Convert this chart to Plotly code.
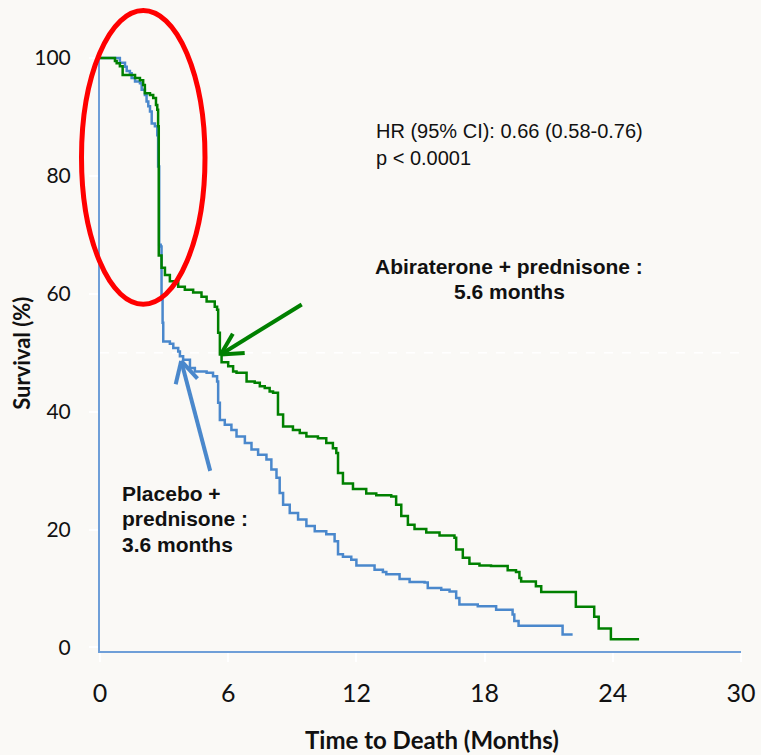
import math
import plotly.graph_objects as go

# Kaplan-Meier step data: time of each event (months) and survival (%) after it
abi_time = [0, 0.70, 0.78, 0.93, 1.06, 1.64, 1.87, 2.02, 2.10, 2.34, 2.49, 2.62, 2.68, 2.72, 2.75,
            2.88, 3.04, 3.27, 3.66, 3.97, 4.36, 4.75, 4.99, 5.37, 5.48, 5.53, 5.61, 5.69, 6.00, 6.23,
            6.39, 6.86, 7.24, 7.48, 7.71, 7.94, 8.10, 8.33, 8.57, 9.03, 9.35, 9.66, 10.20, 10.59, 10.90,
            11.06, 11.14, 11.37, 11.84, 12.46, 12.93, 13.63, 13.86, 14.10, 14.41, 14.72, 15.27, 15.89,
            16.59, 16.67, 16.98, 17.29, 17.76, 18.30, 19.08, 19.47, 19.63, 19.71, 20.40, 20.65, 22.27,
            23.13, 23.34, 23.91, 25.23]
abi_surv = [100, 99.5, 99.1, 98.6, 97.1, 96.6, 96.2, 95.4, 94.0, 93.7, 93.2, 92.0, 91.2, 88.4, 66.5,
            64.4, 63.2, 62.1, 61.2, 60.7, 60.2, 59.5, 58.7, 57.8, 57.3, 53.4, 49.7, 48.4, 47.7, 46.8,
            46.6, 45.1, 44.9, 44.3, 44.0, 43.4, 43.2, 39.5, 37.5, 36.9, 36.4, 35.8, 35.5, 34.7, 33.8,
            33.0, 29.6, 27.8, 26.9, 26.1, 25.8, 25.6, 24.2, 22.3, 20.8, 20.1, 19.5, 19.0,
            18.6, 16.6, 15.2, 14.2, 13.9, 13.8, 13.1, 12.8, 11.8, 11.2, 10.4, 9.4, 6.9,
            5.2, 3.2, 1.4, 1.4]

pla_time = [0, 0.93, 1.17, 1.25, 1.40, 1.48, 1.64, 1.87, 1.95, 2.10, 2.18, 2.26, 2.34, 2.42, 2.57,
            2.68, 2.72, 2.77, 2.84, 2.88, 2.93, 2.96, 3.27, 3.43, 3.66, 3.74, 3.89, 4.21, 4.44, 4.99,
            5.29, 5.48, 5.53, 5.61, 5.84, 6.15, 6.39, 6.78, 7.09, 7.40, 7.79, 8.02, 8.26, 8.41, 8.57,
            8.88, 9.27, 9.66, 10.05, 10.59, 10.98, 11.14, 11.37, 11.76, 12.00, 12.85, 13.24, 13.40,
            14.02, 14.49, 15.19, 15.34, 15.97, 16.36, 16.67, 16.82, 17.68, 18.54, 19.31, 19.39, 19.59,
            21.65, 22.12]
pla_surv = [100, 99.2, 98.5, 97.8, 97.4, 96.6, 96.0, 95.7, 94.6, 93.7, 92.6, 91.8, 90.9, 88.9, 88.4,
            86.9, 81.6, 68.3, 68.0, 59.0, 55.1, 51.9, 51.5, 50.8, 50.2, 49.4, 48.8, 47.4, 46.8, 46.6,
            46.0, 45.1, 41.5, 38.6, 37.8, 36.9, 35.8, 34.7, 33.6, 32.7, 31.9, 30.2, 28.8, 26.2, 24.2,
            22.8, 21.7, 20.6, 19.7, 19.2, 18.0, 15.8, 15.4, 14.9, 13.9, 13.2, 12.8, 12.4,
            11.6, 11.1, 11.0, 10.1, 9.8, 9.5, 8.4, 7.3, 7.0, 6.4, 5.6, 4.5, 3.7,
            2.2, 2.2]

x_ticks = [0, 6, 12, 18, 24, 30]
y_ticks = [0, 20, 40, 60, 80, 100]

abi_median = 5.6
pla_median = 3.6

GREEN = "#008000"
BLUE = "#4a88cc"
AXIS_BLUE = "#6f9fd8"
BG = "#faf9f6"

# figure geometry
FW, FH = 761, 755
L, R, T, B = 100, 20, 55, 103.5
W, H = FW - L - R, FH - T - B
XR = [0, 30]
YR = [-0.6, 100.5]


def to_px(t, s):
    return (L + (t - XR[0]) / (XR[1] - XR[0]) * W,
            T + (YR[1] - s) / (YR[1] - YR[0]) * H)


def px_paper(px, py):
    return (px - L) / W, 1 - (py - T) / H


fig = go.Figure()
fig.add_trace(go.Scatter(x=pla_time, y=pla_surv, mode="lines", line_shape="hv",
                         line=dict(color=BLUE, width=2.5), name="Placebo + prednisone"))
fig.add_trace(go.Scatter(x=abi_time, y=abi_surv, mode="lines", line_shape="hv",
                         line=dict(color=GREEN, width=2.5), name="Abiraterone + prednisone"))

shapes = []
# faint dashed median line
shapes.append(dict(type="line", xref="x", yref="y", x0=XR[0], x1=XR[1], y0=50, y1=50,
                   line=dict(color="white", width=1.5, dash="dash"), layer="below"))

# red ellipse around the early drop
ex0, ey0 = px_paper(81.5, 10.5)
ex1, ey1 = px_paper(205, 304.5)
shapes.append(dict(type="circle", xref="paper", yref="paper", x0=ex0, y0=ey1, x1=ex1, y1=ey0,
                   line=dict(color="#ff0000", width=5)))


def open_arrow(tip, tail_offset, color, width=4, head=24, spread=28):
    tx, ty = tip
    ax, ay = tx + tail_offset[0], ty + tail_offset[1]
    out = []
    p0 = px_paper(ax, ay)
    p1 = px_paper(tx, ty)
    out.append(dict(type="line", xref="paper", yref="paper", x0=p0[0], y0=p0[1], x1=p1[0], y1=p1[1],
                    line=dict(color=color, width=width)))
    ang = math.atan2(ay - ty, ax - tx)
    for sgn in (-1, 1):
        a = ang + sgn * math.radians(spread)
        hx, hy = tx + head * math.cos(a), ty + head * math.sin(a)
        q = px_paper(hx, hy)
        out.append(dict(type="line", xref="paper", yref="paper", x0=q[0], y0=q[1], x1=p1[0], y1=p1[1],
                        line=dict(color=color, width=width)))
    return out


shapes += open_arrow(to_px(abi_median + 0.05, 49.7), (81, -50), GREEN)
shapes += open_arrow(to_px(pla_median + 0.2, 48.6), (29, 110), BLUE)

ARIAL = "Liberation Sans, Arial, sans-serif"
LABEL = "Lato, Calibri, sans-serif"


def text(px, py, s, size, bold=False, xanchor="left"):
    x, y = px_paper(px, py)
    return dict(xref="paper", yref="paper", x=x, y=y, text=f"<b>{s}</b>" if bold else s,
                showarrow=False, xanchor=xanchor, yanchor="middle",
                font=dict(family=ARIAL, size=size, color="#111111"))


annotations = [
    text(374, 131, "HR (95% CI): 0.66 (0.58-0.76)", 20),
    text(374, 158, "p &lt; 0.0001", 20),
    text(509, 267, "Abiraterone + prednisone :", 21, bold=True, xanchor="center"),
    text(509, 292, "5.6 months", 21, bold=True, xanchor="center"),
    text(120, 494, "Placebo +", 21, bold=True),
    text(120, 519, "prednisone :", 21, bold=True),
    text(120, 545, "3.6 months", 21, bold=True),
]
xt = px_paper(432, 740)
annotations.append(dict(xref="paper", yref="paper", x=xt[0], y=xt[1], text="<b>Time to Death (Months)</b>",
                        showarrow=False, xanchor="center", yanchor="middle",
                        font=dict(family=LABEL, size=24, color="#111111")))
yt = px_paper(22, 354)
annotations.append(dict(xref="paper", yref="paper", x=yt[0], y=yt[1], text="<b>Survival (%)</b>",
                        showarrow=False, textangle=-90, xanchor="center", yanchor="middle",
                        font=dict(family=LABEL, size=22, color="#111111")))

fig.update_layout(
    width=FW, height=FH,
    margin=dict(l=L, r=R, t=T, b=B, autoexpand=False),
    paper_bgcolor=BG, plot_bgcolor=BG,
    showlegend=False,
    shapes=shapes,
    annotations=annotations,
    xaxis=dict(range=XR, tickvals=x_ticks, showgrid=False, zeroline=False, automargin=False,
               showline=True, linecolor=AXIS_BLUE, linewidth=2,
               ticks="outside", ticklen=9, tickcolor="white", tickwidth=1.5,
               ticklabelstandoff=10,
               tickfont=dict(family=LABEL, size=25, color="#111111")),
    yaxis=dict(range=YR, tickvals=y_ticks, showgrid=False, zeroline=False, automargin=False,
               showline=True, linecolor=AXIS_BLUE, linewidth=2,
               ticks="outside", ticklen=9, tickcolor="white", tickwidth=1.5,
               ticklabelstandoff=14,
               tickfont=dict(family=LABEL, size=21, color="#111111")),
)

fig.write_html("out.html")
